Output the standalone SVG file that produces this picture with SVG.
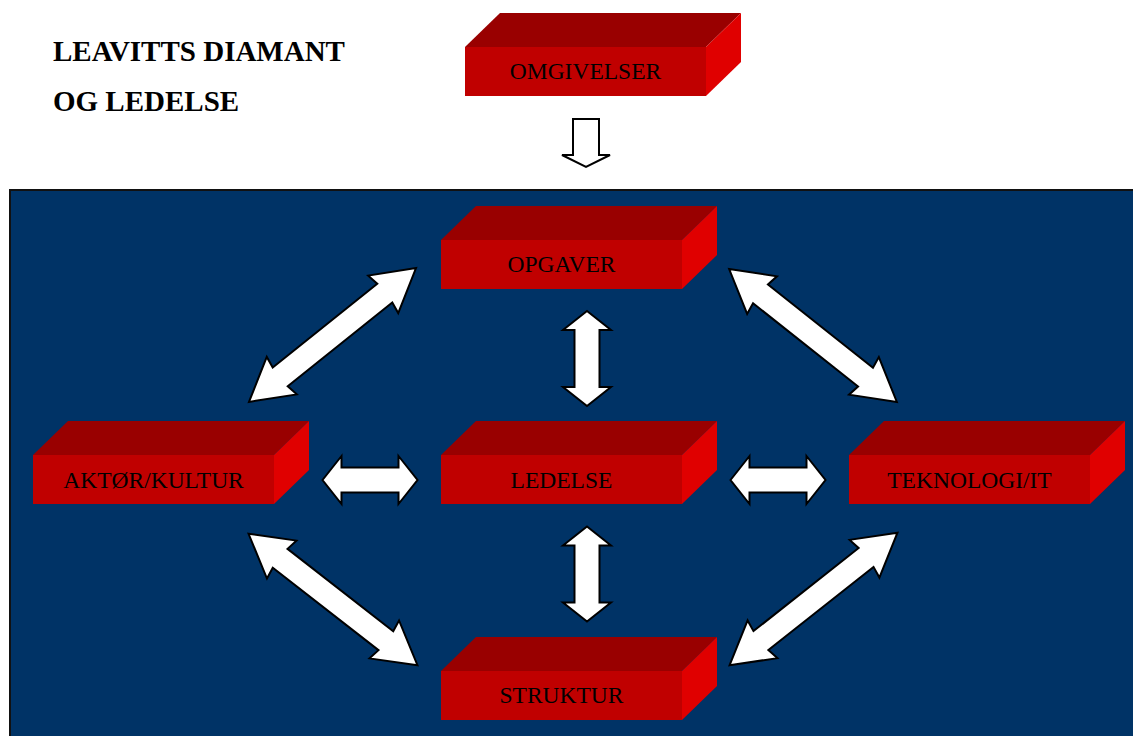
<svg xmlns="http://www.w3.org/2000/svg" xmlns:xlink="http://www.w3.org/1999/xlink" width="1133" height="736" viewBox="0 0 1133 736">
  <style>
    .title { font-family: "Liberation Serif", "Times New Roman", serif; font-weight: bold; font-size: 29px; fill: #000; }
    .lbl { font-family: "Liberation Serif", "Times New Roman", serif; font-size: 23.5px; fill: #000; text-anchor: middle; }
    .top { fill: #990000; }
    .front { fill: #C00000; }
    .side { fill: #E00000; }
    .arr { fill: #FFFFFF; stroke: #000000; stroke-width: 2; stroke-linejoin: miter; }
  </style>
  <defs>
    <g id="box">
      <polygon class="top" points="0,0 35,-34 276,-34 241,0"/>
      <polygon class="side" points="241,0 276,-34 276,15 241,49"/>
      <rect class="front" x="0" y="0" width="241" height="49"/>
    </g>
    <path id="dshort" d="M -47.5,0 L -28.5,-24 L -28.5,-12.5 L 28.5,-12.5 L 28.5,-24 L 47.5,0 L 28.5,24 L 28.5,12.5 L -28.5,12.5 L -28.5,24 Z"/>
    <path id="dlong" d="M -107,0 L -65,-24 L -67,-12 L 67,-12 L 65,-24 L 107,0 L 65,24 L 67,12 L -67,12 L -65,24 Z"/>
  </defs>

  <rect width="1133" height="736" fill="#FFFFFF"/>

  <g id="title">
    <text class="title" x="53" y="61">LEAVITTS DIAMANT</text>
    <text class="title" x="53" y="111">OG LEDELSE</text>
  </g>

  <rect id="panel" x="10" y="190" width="1130" height="560" fill="#003366" stroke="#111111" stroke-width="2"/>

  <g id="connectors">
    <path class="arr" d="M 573,119 L 599,119 L 599,155 L 610,155 L 586,167 L 562,155 L 573,155 Z"/>
    <use class="arr" href="#dshort" transform="translate(587,358.5) rotate(90)"/>
    <use class="arr" href="#dshort" transform="translate(587,574) rotate(90)"/>
    <use class="arr" href="#dshort" transform="translate(370,480)"/>
    <use class="arr" href="#dshort" transform="translate(778,480)"/>
    <use class="arr" href="#dlong" transform="translate(332.5,335) rotate(-38.7)"/>
    <use class="arr" href="#dlong" transform="translate(813,335.5) rotate(38.4)"/>
    <use class="arr" href="#dlong" transform="translate(333,599.5) rotate(37.9)"/>
    <use class="arr" href="#dlong" transform="translate(813.5,599) rotate(-38.3)"/>
  </g>

  <g id="n-omgivelser" transform="translate(465,47)">
    <use href="#box"/>
    <text class="lbl" x="120.5" y="32">OMGIVELSER</text>
  </g>
  <g id="n-opgaver" transform="translate(441,240)">
    <use href="#box"/>
    <text class="lbl" x="120.5" y="32">OPGAVER</text>
  </g>
  <g id="n-aktor" transform="translate(33,455)">
    <use href="#box"/>
    <text class="lbl" x="120.5" y="33">AKTØR/KULTUR</text>
  </g>
  <g id="n-ledelse" transform="translate(441,455)">
    <use href="#box"/>
    <text class="lbl" x="120.5" y="33">LEDELSE</text>
  </g>
  <g id="n-teknologi" transform="translate(849,455)">
    <use href="#box"/>
    <text class="lbl" x="120.5" y="33">TEKNOLOGI/IT</text>
  </g>
  <g id="n-struktur" transform="translate(441,671)">
    <use href="#box"/>
    <text class="lbl" x="120.5" y="32">STRUKTUR</text>
  </g>
</svg>
